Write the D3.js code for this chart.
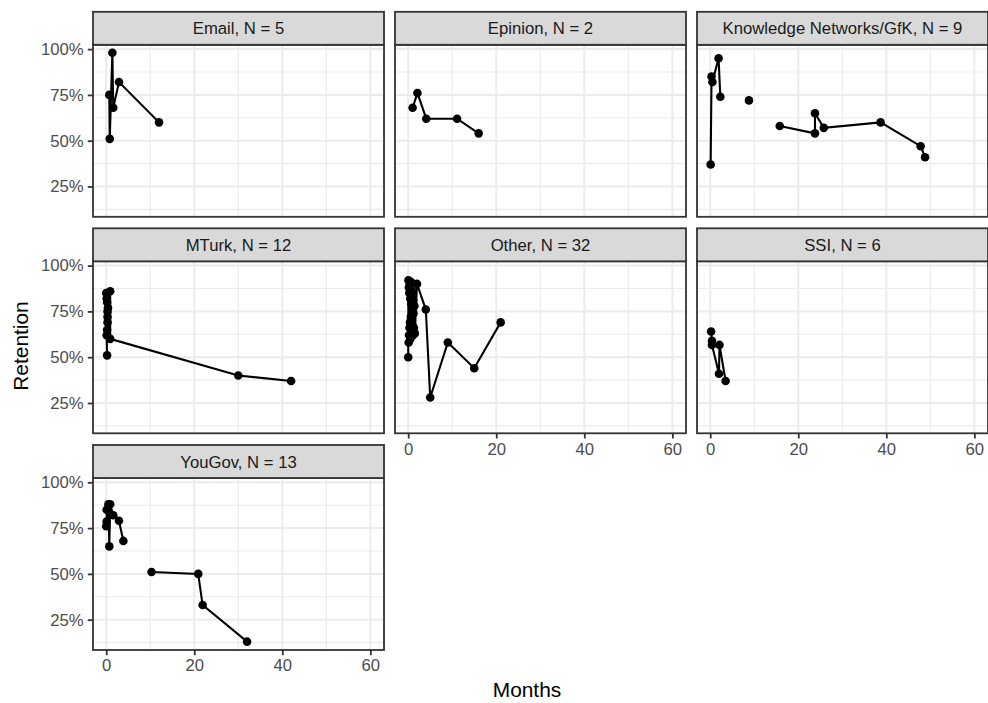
<!DOCTYPE html>
<html>
<head>
<meta charset="utf-8">
<script src="https://cdn.jsdelivr.net/npm/d3@7"></script>
<style>
  body { margin: 0; background: #fff; }
  svg { display: block; font-family: "Liberation Sans", Arial, Helvetica, sans-serif; }
</style>
</head>
<body>
<svg id="chart" width="988" height="703"></svg>
<script>
// facet titles, in layout order
const titles = ["Email, N = 5", "Epinion, N = 2", "Knowledge Networks/GfK, N = 9",
  "MTurk, N = 12", "Other, N = 32", "SSI, N = 6", "YouGov, N = 13"]

// each panel: list of connected runs of [months, retention]
const email = [
  [[0.7, 0.75], [0.8, 0.51], [1.4, 0.98], [1.6, 0.68], [2.9, 0.82], [12, 0.60]]
]
const epinion = [
  [[1.0, 0.68], [2.1, 0.76], [4.1, 0.62], [11.1, 0.62], [16, 0.54]]
]
const knowledge = [
  [[0.1, 0.37], [0.3, 0.85], [0.5, 0.82], [1.9, 0.95], [2.3, 0.74]],
  [[8.8, 0.72]],
  [[15.8, 0.58], [23.8, 0.54], [23.8, 0.65], [25.8, 0.57], [38.7, 0.60], [47.8, 0.47], [48.8, 0.41]]
]
const mturk = [
  [[0.2, 0.51], [0.1, 0.62], [0.2, 0.65], [0.3, 0.69], [0.3, 0.72], [0.3, 0.75], [0.4, 0.77],
   [0.2, 0.80], [0.1, 0.82], [0.0, 0.85], [0.9, 0.86], [0.9, 0.60], [30, 0.40], [42, 0.37]]
]
const other = [
  [[0.0, 0.50], [0.05, 0.92], [0.1, 0.58], [0.15, 0.88], [0.2, 0.62], [0.25, 0.85], [0.3, 0.66],
   [0.35, 0.90], [0.4, 0.69], [0.45, 0.82], [0.5, 0.60], [0.55, 0.87], [0.6, 0.72], [0.65, 0.91],
   [0.7, 0.79], [0.75, 0.64], [0.8, 0.84], [0.85, 0.70], [0.9, 0.68], [0.95, 0.86], [1.0, 0.77],
   [1.05, 0.65], [1.1, 0.62], [1.15, 0.81], [1.2, 0.74], [1.3, 0.66], [1.4, 0.78],
   [1.5, 0.63], [2.0, 0.90], [4, 0.76], [5, 0.28], [9, 0.58], [15, 0.44], [21, 0.69]]
]
const ssi = [
  [[0.2, 0.64], [0.4, 0.59], [0.4, 0.567], [2.0, 0.41], [2.1, 0.567], [3.5, 0.37]]
]
const yougov = [
  [[0.0, 0.76], [0.1, 0.786], [0.1, 0.85], [0.5, 0.88], [0.7, 0.65], [0.9, 0.88], [1.6, 0.82],
   [2.9, 0.79], [3.9, 0.68]],
  [[10.3, 0.51], [20.9, 0.50], [21.9, 0.33], [32, 0.13]]
]
const series = [email, epinion, knowledge, mturk, other, ssi, yougov]

const xMajor = [0, 20, 40, 60]
const xMinor = [10, 30, 50]
const yMajor = [0.25, 0.5, 0.75, 1]
const yMinor = [0.125, 0.375, 0.625, 0.875]

const colX = [93, 395, 697]
const stripTop = [11.8, 228.3, 445]
const panelW = 291, panelH = 172, stripH = 33

const svg = d3.select('#chart')
const x = d3.scaleLinear().domain([-3.0, 63.1]).range([0, panelW])
const y = d3.scaleLinear().domain([0.0845, 1.0235]).range([panelH, 0])
const pct = d3.format('.0%')

const line = d3.line().x(d => x(d[0])).y(d => y(d[1]))

titles.forEach((t, i) => {
    const col = i % 3, row = Math.floor(i / 3)
    const px = colX[col], sy = stripTop[row], py = sy + stripH
    const g = svg.append('g').attr('transform', `translate(${px},${py})`)

    // grid
    g.selectAll('.xmin').data(xMinor).join('line')
        .attr('x1', d => x(d)).attr('x2', d => x(d)).attr('y1', 0).attr('y2', panelH)
        .attr('stroke', '#ebebeb').attr('stroke-width', 1.1)
    g.selectAll('.ymin').data(yMinor).join('line')
        .attr('y1', d => y(d)).attr('y2', d => y(d)).attr('x1', 0).attr('x2', panelW)
        .attr('stroke', '#ebebeb').attr('stroke-width', 1.1)
    g.selectAll('.xmaj').data(xMajor).join('line')
        .attr('x1', d => x(d)).attr('x2', d => x(d)).attr('y1', 0).attr('y2', panelH)
        .attr('stroke', '#ebebeb').attr('stroke-width', 2)
    g.selectAll('.ymaj').data(yMajor).join('line')
        .attr('y1', d => y(d)).attr('y2', d => y(d)).attr('x1', 0).attr('x2', panelW)
        .attr('stroke', '#ebebeb').attr('stroke-width', 2)

    // data
    const runs = series[i]
    g.selectAll('path.run').data(runs.filter(r => r.length > 1)).join('path')
        .attr('class', 'run')
        .attr('d', line)
        .attr('fill', 'none').attr('stroke', '#000').attr('stroke-width', 2.1)
    g.selectAll('circle').data(runs.flat()).join('circle')
        .attr('cx', d => x(d[0])).attr('cy', d => y(d[1])).attr('r', 4.3)
        .attr('fill', '#000')

    // border
    g.append('rect').attr('width', panelW).attr('height', panelH)
        .attr('fill', 'none').attr('stroke', '#333').attr('stroke-width', 1.8)

    // strip
    const s = svg.append('g').attr('transform', `translate(${px},${sy})`)
    s.append('rect').attr('width', panelW).attr('height', stripH)
        .attr('fill', '#d9d9d9').attr('stroke', '#333').attr('stroke-width', 1.8)
    s.append('text').attr('x', panelW / 2).attr('y', stripH / 2).attr('dy', '0.36em')
        .attr('text-anchor', 'middle').attr('fill', '#1a1a1a').attr('font-size', 16.7)
        .text(t)

    // y axis on first column
    if (col === 0) {
        const ya = g.append('g').call(d3.axisLeft(y).tickValues(yMajor).tickFormat(pct)
            .tickSize(5.2).tickPadding(4.2))
        ya.select('.domain').remove()
        ya.selectAll('line').attr('stroke', '#333').attr('stroke-width', 1.8)
        ya.selectAll('text').attr('fill', '#4d4d4d').attr('font-size', 16.7)
            .attr('font-family', '"Liberation Sans", Arial, sans-serif')
    }
    // x axis on bottom panels
    if (i >= 4) {
        const xa = g.append('g').attr('transform', `translate(0,${panelH})`)
            .call(d3.axisBottom(x).tickValues(xMajor).tickSize(5.2).tickPadding(4.2))
        xa.select('.domain').remove()
        xa.selectAll('line').attr('stroke', '#333').attr('stroke-width', 1.8)
        xa.selectAll('text').attr('fill', '#4d4d4d').attr('font-size', 16.7)
            .attr('font-family', '"Liberation Sans", Arial, sans-serif')
    }
})

// axis titles
svg.append('text').attr('x', 527).attr('y', 689)
    .attr('dy', '0.36em').attr('text-anchor', 'middle').attr('font-size', 20.9)
    .attr('fill', '#000').text('Months')
svg.append('text')
    .attr('transform', 'translate(20,346) rotate(-90)')
    .attr('dy', '0.36em').attr('text-anchor', 'middle').attr('font-size', 20.9)
    .attr('fill', '#000').text('Retention')
</script>
</body>
</html>
